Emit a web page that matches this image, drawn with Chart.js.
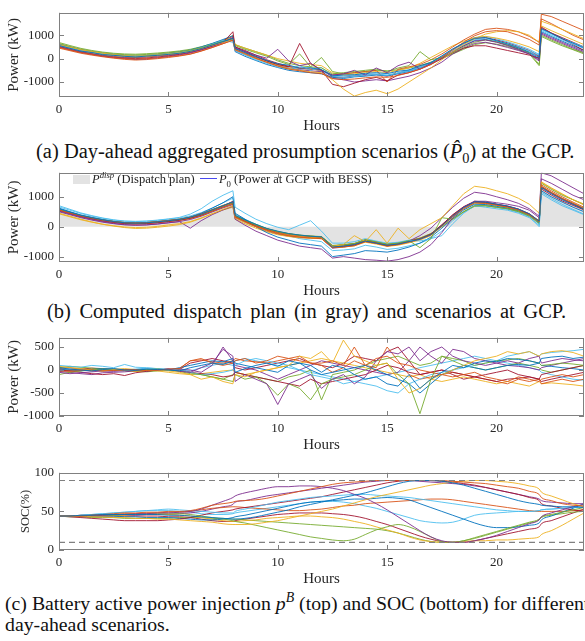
<!DOCTYPE html>
<html>
<head>
<meta charset="utf-8">
<script src="https://cdn.jsdelivr.net/npm/chart.js@4.4.1/dist/chart.umd.min.js"></script>
<style>
  body { margin: 0; width: 585px; height: 641px; overflow: hidden; background: #fff; position: relative; font-family: 'Liberation Serif', 'Times New Roman', serif; color: #111; }
  canvas { position: absolute; left: 0; }
  .cap { position: absolute; white-space: nowrap; font-size: 20.5px; line-height: 22px; }
  .capc { font-size: 19.8px; }
  .legend { position: absolute; left: 73px; top: 172px; font-size: 12.5px; white-space: nowrap; color: #222; }
  .legend .box { display: inline-block; width: 17px; height: 9px; background: #e3e3e3; vertical-align: -1px; margin-right: 2px; }
  .legend .ln { display: inline-block; width: 17px; height: 1px; background: #4a4af0; vertical-align: 4px; margin: 0 2px; }
  sup, sub { font-size: 70%; line-height: 0; }
</style>
</head>
<body>
<canvas id="chartA" width="585" height="135" style="top:0px"></canvas>
<div class="cap" style="left:36px;top:140px">(a) Day-ahead aggregated prosumption scenarios (<i>P̂</i><sub>0</sub>) at the GCP.</div>
<canvas id="chartB" width="585" height="140" style="top:160px"></canvas>
<div class="legend"><span class="box"></span><i>P</i><sup><i>disp</i></sup> (Dispatch plan) <span class="ln"></span><i>P</i><sub>0</sub> (Power at GCP with BESS)</div>
<div class="cap" style="left:47px;top:300px;word-spacing:3.4px">(b) Computed dispatch plan (in gray) and scenarios at GCP.</div>
<canvas id="chartC" width="585" height="129" style="top:325px"></canvas>
<canvas id="chartD" width="585" height="128" style="top:460px"></canvas>
<div class="cap capc" style="left:5px;top:592px">(c) Battery active power injection <i>p</i><sup><i>B</i></sup> (top) and SOC (bottom) for different</div>
<div class="cap capc" style="left:5px;top:613px">day-ahead scenarios.</div>
<script>
// time axis (h), half-hourly with the two step changes at 8 h and 22 h
const hours = [0,0.5,1,1.5,2,2.5,3,3.5,4,4.5,5,5.5,6,6.5,7,7.5,7.95,8.05,8.5,9,9.5,10,10.5,11,11.5,12,12.5,13,13.5,14,14.5,15,15.5,16,16.5,17,17.5,18,18.5,19,19.5,20,20.5,21,21.5,21.95,22.05,22.5,23,23.5,24];
const hourTicks = [0, 5, 10, 15, 20];

// (a) day-ahead aggregated prosumption scenarios (kW)
const prosumption = [
  [560,440,320,260,170,140,100,70,110,140,180,230,310,430,580,730,860,430,260,80,-80,-220,-280,-400,-390,-470,-740,-700,-690,-630,-600,-640,-540,-480,-300,-170,120,420,660,870,900,770,630,470,280,60,1280,1080,860,660,460],
  [480,370,260,180,100,40,0,-20,0,30,80,130,200,330,480,640,780,380,220,20,-160,-320,-450,-520,-600,-640,-850,-900,-870,-820,-780,-800,-720,-600,-450,-250,50,380,700,980,1150,1200,1150,1000,820,580,1900,1800,1600,1400,1200],
  [600,490,380,300,230,170,130,110,130,160,200,250,320,440,570,700,820,380,200,0,-150,-300,-420,-500,-560,-600,-900,-1300,-1600,-1450,-1350,-1500,-1300,-1000,-700,-400,-50,300,600,850,1050,1150,1200,1150,1000,700,1600,1450,1250,1050,850],
  [520,400,290,200,120,60,20,-30,-10,40,100,160,240,370,520,700,900,450,320,150,20,400,-100,-300,-200,-500,-700,-650,-500,-700,-400,-600,-300,-150,-450,-200,0,300,550,750,800,700,560,400,200,-100,1100,900,700,500,300],
  [650,520,400,320,250,200,170,160,180,210,250,300,360,470,600,740,830,560,400,250,100,-100,-250,200,-350,-400,-650,-600,-550,-500,-450,-550,-400,-300,300,-50,50,250,500,700,800,720,600,450,250,-250,1000,800,600,400,250],
  [580,470,360,280,210,160,120,110,130,170,210,270,340,470,620,780,700,350,150,-50,-200,-350,-450,-300,-500,-380,-750,-800,-760,-700,-680,-720,-620,-520,-380,-200,50,350,620,820,860,760,650,500,330,150,1200,1000,800,620,430],
  [500,380,270,190,110,60,20,0,30,70,120,180,260,380,530,690,1150,500,300,100,-100,-250,-350,650,-200,-500,-1100,-1200,-1050,-900,-800,-950,-700,-600,-450,-250,0,250,450,550,550,450,350,250,150,20,1350,1100,850,600,350],
  [620,500,390,300,230,180,140,120,140,180,230,290,370,500,650,820,980,300,100,-80,-250,-380,-500,-560,-600,-650,-800,-850,-780,-750,-700,-730,-650,-550,-400,-220,20,300,550,780,820,720,580,420,250,0,1150,950,750,550,350],
  [450,340,230,150,80,20,-30,-60,-40,0,50,110,190,320,470,640,800,420,250,50,-100,-250,-350,-400,-450,-500,-700,-650,-600,-550,-500,-1000,-450,-350,-250,-50,200,500,800,1050,1250,1300,1250,1150,950,700,1700,1500,1250,1000,800],
  [540,420,310,240,170,120,80,70,90,130,170,220,300,420,560,720,1000,600,450,300,150,0,-100,-200,-250,-300,-600,-700,-650,-600,-550,-600,-500,-400,-200,50,300,550,750,900,950,880,780,650,500,300,1400,1200,1000,800,600],
  [600,480,360,270,190,130,80,60,80,120,160,210,290,410,550,700,800,350,180,0,-150,-300,-420,-480,-520,-560,-850,-900,-1000,-950,-900,-950,-850,-750,-600,-400,-150,200,450,650,700,600,480,350,200,-50,1050,850,650,450,250],
  [690,560,440,350,280,230,200,190,210,240,280,330,400,510,640,780,880,600,450,300,150,-50,-200,-300,-350,50,-550,-650,-600,-550,-500,-520,-480,-400,-300,-150,0,200,400,600,680,620,520,380,200,-300,950,750,550,380,200],
  [560,450,340,260,190,150,110,100,120,150,200,260,330,460,600,750,860,450,300,100,-100,-280,-400,-450,-400,-550,-700,-750,-700,-680,-650,-700,-600,-500,-350,-150,100,400,680,900,950,850,720,570,400,180,1250,1050,850,680,500],
  [530,410,300,220,150,100,60,50,80,120,170,230,310,440,600,780,950,500,350,150,-50,-200,-330,-420,-450,-480,-780,-800,-740,-700,-680,-750,-620,-500,-350,-180,80,380,650,860,900,800,680,520,350,100,1300,1100,900,700,500]
];

// (b) dispatch plan and power at GCP with BESS (kW)
const dispatchPlan = [550,450,350,270,200,150,110,100,110,140,180,220,280,380,520,660,780,350,200,50,-80,-180,-250,-300,-330,-350,-650,-620,-580,-450,-520,-600,-560,-480,-400,-250,50,380,650,820,800,740,680,580,420,180,1250,1050,850,700,550];
const gcpPower = [
  [600,490,380,300,230,170,130,120,130,160,200,240,320,420,560,700,830,380,230,80,-60,-150,-230,-280,-320,-340,-680,-650,-600,-480,-550,-620,-580,-500,-420,-270,30,360,640,830,820,750,690,590,430,190,1300,1100,900,740,580],
  [560,460,360,290,220,170,140,130,140,170,210,250,320,430,570,710,820,320,170,0,-120,-230,-300,-350,-380,-400,-700,-680,-640,-500,-560,-650,-600,-520,-420,-280,20,340,600,800,780,720,650,560,400,170,1400,1200,1000,820,650],
  [450,350,250,160,80,20,-30,-60,-50,-20,20,70,150,280,430,580,700,300,150,0,-130,-220,-290,-330,-360,-380,-660,-600,-300,-500,-100,-550,-50,-400,-100,100,300,700,1100,1350,1300,1200,1100,950,750,450,1500,1300,1100,900,750],
  [520,420,320,240,170,110,70,50,60,90,130,170,-50,200,400,560,680,250,50,-150,-300,-450,-550,-650,-700,-750,-1050,-1000,-1050,-1100,-1120,-1150,-1100,-1000,-850,-600,-200,300,650,850,850,800,750,680,550,300,1800,1700,1500,1300,1100],
  [570,470,370,290,220,170,130,120,130,160,200,240,310,410,550,690,800,360,210,60,-70,-170,-240,-290,-320,-340,-640,-610,-570,-440,-510,-590,-550,-470,-700,-400,300,250,500,700,700,650,600,520,380,150,1450,1250,1050,900,750],
  [700,580,460,370,290,230,190,180,190,220,260,310,420,600,850,1050,1200,650,450,250,100,-20,-100,50,200,-150,-550,-550,-500,-400,-480,-550,-520,-450,-480,-400,-300,100,450,700,650,600,550,450,300,50,1100,900,700,550,400],
  [560,460,350,270,200,150,110,100,110,140,180,220,290,400,550,690,850,330,180,20,-110,-210,-290,-330,-360,-370,-680,-660,-610,-490,-540,-640,-590,-500,-410,-250,60,400,670,850,820,750,680,580,420,170,1320,1120,920,750,580],
  [620,500,390,310,240,180,140,130,140,170,210,250,320,450,620,800,1000,450,250,0,-200,-350,-450,-550,-600,-650,-1000,-950,-900,-800,-820,-850,-780,-680,-550,-350,-50,280,560,750,740,680,620,530,380,130,1200,1000,820,650,500],
  [540,440,340,260,190,140,100,90,100,130,170,210,270,370,510,650,760,340,190,40,-90,-190,-260,-310,-340,-360,-670,-640,-590,-460,-530,-610,-570,-490,-410,-260,40,370,640,810,790,730,670,570,410,170,1350,1150,950,780,600],
  [430,330,230,150,80,30,-10,-30,-20,10,60,100,170,290,430,560,650,250,100,-50,-170,-270,-330,-370,-390,-400,-700,-680,-640,-520,-580,-660,-620,-540,-450,-300,0,330,600,780,770,710,650,550,400,200,1480,1280,1080,900,720],
  [500,400,300,220,150,100,60,50,60,90,130,170,240,350,490,630,740,300,150,0,-150,-250,-320,-360,-380,-400,-720,-680,-620,-500,-560,-620,-580,-480,-300,-50,300,650,950,1150,1100,1000,900,780,600,350,1600,1450,1250,1050,900],
  [580,480,380,300,230,180,140,130,140,170,210,250,320,430,570,710,820,380,230,80,-60,-160,-230,-280,-310,-330,-630,-600,-560,-430,-500,-580,-540,-460,-380,-230,0,250,500,680,700,650,600,500,350,100,1350,1150,950,780,620],
  [660,550,440,350,280,220,180,170,180,210,250,290,360,470,620,800,950,420,250,80,-80,-200,-300,-400,-450,-500,-800,-780,-740,-620,-680,-760,-720,-640,-550,-400,-150,200,480,700,700,650,580,480,330,0,1150,950,750,580,420],
  [550,450,350,270,200,150,110,100,110,140,180,220,280,380,520,660,790,360,210,60,-70,-170,-240,-290,-320,-340,-640,-610,-570,-440,-510,-590,-550,-470,-390,-240,60,390,660,830,810,750,690,590,430,190,1260,1060,860,710,560]
];

// (c, top) battery active power injection (kW)
const batteryPower = [
  [50,20,0,-20,10,30,0,-10,20,10,0,-20,50,100,150,120,200,-50,30,100,150,80,200,150,100,-50,100,50,-100,-200,-150,-300,-350,-100,-400,-200,-50,100,50,150,200,180,250,230,200,150,250,280,300,250,280],
  [-20,-30,-10,0,-20,-10,10,0,-10,0,20,30,200,250,150,100,150,200,250,150,200,300,250,200,150,150,200,100,500,100,250,300,150,100,0,-50,-100,-150,-100,-50,-150,-200,-250,-150,-200,-250,-200,-150,-100,-150,-100],
  [80,50,30,0,-20,10,0,-30,-10,0,-20,-50,-100,-200,-150,-250,-300,-100,-150,-50,0,50,100,300,250,400,150,650,300,200,100,150,-200,-500,-400,-200,-100,0,100,200,250,300,400,350,400,300,350,400,420,380,300],
  [-50,-80,-60,-40,-20,-30,-10,0,-20,0,20,-30,-50,50,150,450,300,-250,-100,-200,-300,-750,-300,-200,-100,-400,-200,-100,-300,-150,200,400,350,500,200,400,500,300,200,150,100,150,200,150,250,300,150,200,250,220,200],
  [-100,-50,-20,0,20,10,-10,0,10,20,0,-30,-80,-100,-150,-200,-250,-100,-200,-150,-300,-550,-300,-400,-650,-300,-200,-150,-100,0,100,150,-100,-300,-950,-200,300,250,200,100,150,200,220,250,200,150,100,120,150,130,100],
  [100,80,60,100,80,50,120,60,50,30,20,0,-50,-100,-80,-50,0,100,200,250,200,150,100,0,-100,-150,-200,-300,-250,-300,-350,-450,-500,-300,-200,-100,-50,0,50,100,150,200,300,350,400,300,350,380,400,420,450],
  [0,-20,-50,-80,-100,-80,-120,-60,-30,0,20,0,-50,-80,-100,-150,-120,-50,-100,-150,-200,-250,-300,-350,-200,-300,-250,-200,-150,-100,0,100,50,-50,-100,-50,0,-50,-100,-150,-200,-250,-200,-180,-150,-200,-100,-50,0,50,100],
  [20,0,-20,10,30,20,0,10,20,10,0,50,100,150,200,180,250,150,100,50,0,-50,100,150,0,-100,-50,0,50,100,0,-100,-200,-300,-500,-300,-100,0,100,50,0,50,100,120,100,150,100,80,50,30,0],
  [30,50,20,0,-20,0,10,-10,0,20,10,30,200,220,180,150,200,250,200,180,150,200,250,300,150,100,-50,50,200,100,50,500,200,-100,-200,-150,-100,-50,-100,-150,-200,-250,-300,-200,-250,-200,-300,-250,-200,-250,-200],
  [0,-10,10,-20,0,20,30,10,0,-20,-50,-80,-100,-80,-50,-20,0,-50,-100,-50,0,50,100,150,200,250,200,150,100,50,0,-50,-100,-150,-100,-200,-250,-200,-150,-200,-250,-300,-250,-300,-350,-250,-300,-280,-300,-320,-350],
  [-30,-50,-80,-100,-60,-50,-40,-20,-10,0,10,20,0,-50,100,500,200,100,50,0,-100,-200,-100,0,100,200,150,100,50,0,-50,-100,-50,200,500,300,150,450,400,250,200,150,100,80,50,0,50,100,150,200,250],
  [50,80,60,40,20,0,-20,-30,-40,-20,0,-20,-50,-100,-150,-200,-100,-50,-100,-150,-200,-250,-150,-100,0,-650,-100,-50,0,100,200,250,300,200,100,150,300,200,100,50,0,50,100,150,100,50,0,-50,0,50,100],
  [60,40,20,0,-20,-10,0,20,40,30,10,0,-20,50,100,150,100,200,250,200,150,100,50,0,-50,-100,-150,-200,-250,-200,-150,-100,-50,0,50,100,150,200,250,300,250,200,150,100,50,0,-50,-100,-150,-200,-220],
  [-20,0,20,40,30,10,-10,-30,-20,0,20,10,150,200,250,200,150,50,0,50,100,150,200,250,150,100,50,150,300,250,200,400,500,200,-100,-50,0,-100,-200,-150,-100,-50,0,-100,-150,-200,-250,-200,-150,-100,-50]
];

// (c, bottom) state of charge (%)
const socScenarios = [
  [44,44,45,45,46,46,46,46,46,46,45,45,44,43,42,41,40,40,41,43,46,49,52,56,59,62,65,68,71,74,78,82,86,89,90,90,89,87,84,80,76,72,68,64,61,59,58,57,56,56,55],
  [44,44,44,45,46,47,48,48,49,49,50,50,51,54,58,60,62,63,64,65,67,70,73,76,79,82,85,87,88,89,90,90,90,90,90,90,90,89,88,87,86,84,82,80,76,72,68,64,60,58,57],
  [44,44,44,43,43,42,42,41,41,40,40,39,38,37,36,34,33,33,33,34,36,38,41,44,47,50,53,57,61,65,69,72,75,78,81,84,86,88,89,90,90,89,88,86,83,79,75,70,65,60,56],
  [44,44,44,45,45,46,46,47,47,48,48,49,50,53,58,63,68,70,74,77,80,82,82,83,83,82,80,77,72,67,60,52,43,34,25,17,12,10,10,12,15,19,24,29,34,39,43,48,52,56,59],
  [44,44,44,45,45,45,46,46,47,47,47,47,46,44,42,40,38,37,35,32,29,26,23,20,17,15,13,12,14,20,26,30,33,30,24,17,11,10,12,16,20,24,28,32,36,40,43,46,49,52,55],
  [44,44,45,46,47,48,49,50,51,52,53,52,51,50,49,48,48,50,53,56,59,62,64,66,68,69,70,71,72,72,71,70,69,68,66,64,62,60,58,56,54,52,51,50,50,51,52,53,54,55,56],
  [44,43,42,41,40,39,38,38,38,38,39,40,42,45,48,50,52,53,55,57,59,61,63,65,67,69,72,75,78,81,84,87,89,90,90,90,89,88,86,84,81,78,75,72,68,64,60,57,54,52,50],
  [44,44,44,44,44,44,43,43,42,42,42,41,40,39,39,40,42,43,45,48,51,54,57,60,62,63,64,65,66,66,67,68,67,65,60,55,50,45,40,35,31,29,29,30,32,35,39,44,49,54,60],
  [44,44,45,45,46,46,47,47,48,48,49,49,50,52,54,55,56,56,55,54,53,52,51,51,52,53,55,57,58,60,61,62,63,64,65,66,66,65,63,61,59,57,55,53,51,50,50,50,50,51,52],
  [44,44,44,44,45,45,45,46,46,46,46,45,44,42,40,38,37,37,38,39,41,42,43,44,44,43,42,40,37,34,30,26,22,17,13,11,10,10,11,12,12,13,13,14,15,17,20,25,32,40,48],
  [44,44,44,44,44,45,45,45,46,46,46,47,48,50,53,56,59,62,64,67,70,72,74,76,78,80,82,84,86,88,89,90,90,90,89,88,87,86,85,83,81,78,75,72,69,66,64,62,61,60,60],
  [44,43,43,42,42,42,41,41,41,41,41,42,42,42,41,41,40,40,39,38,37,36,35,34,33,32,31,30,29,28,27,25,22,18,14,11,10,10,12,15,19,23,27,31,35,39,42,45,47,49,50],
  [44,44,45,46,47,48,49,50,51,51,51,50,49,47,46,46,47,48,50,52,54,56,58,60,62,63,63,62,60,57,54,50,46,42,38,36,35,36,40,45,47,48,49,50,50,51,52,53,54,55,56],
  [44,44,44,44,44,44,44,44,44,44,43,43,42,40,38,37,37,38,40,42,44,46,47,48,48,48,47,46,44,41,37,33,28,23,18,14,11,10,10,12,15,18,21,24,27,30,34,38,43,48,53]
];
const socLimits = [10, 90];

const colorOrder = ['#0072BD', '#D95319', '#EDB120', '#7E2F8E', '#77AC30', '#4DBEEE', '#A2142F'];
const serif = "'Liberation Serif', 'Times New Roman', serif";
const textColor = '#262626';

function toPoints(vals) {
  return vals.map((v, i) => ({ x: hours[i], y: v }));
}

function scenarioSets(list, extra) {
  return list.map((vals, i) => Object.assign({
    data: toPoints(vals),
    borderColor: colorOrder[i % colorOrder.length],
    borderWidth: 0.9,
    pointRadius: 0,
    tension: 0,
    fill: false
  }, extra || {}));
}

// matlab style box with inward ticks
const boxPlugin = {
  id: 'box',
  afterDatasetsDraw(chart) {
    const { ctx, chartArea: a, scales } = chart;
    ctx.save();
    ctx.strokeStyle = '#808080';
    ctx.lineWidth = 1;
    ctx.strokeRect(Math.round(a.left) + 0.5, Math.round(a.top) + 0.5, Math.round(a.right - a.left) - 1, Math.round(a.bottom - a.top) - 1);
    ctx.beginPath();
    scales.x.ticks.forEach(t => {
      const px = Math.round(scales.x.getPixelForValue(t.value)) + 0.5;
      ctx.moveTo(px, a.bottom); ctx.lineTo(px, a.bottom - 5);
      ctx.moveTo(px, a.top); ctx.lineTo(px, a.top + 5);
    });
    scales.y.ticks.forEach(t => {
      const py = Math.round(scales.y.getPixelForValue(t.value)) + 0.5;
      ctx.moveTo(a.left, py); ctx.lineTo(a.left + 5, py);
      ctx.moveTo(a.right, py); ctx.lineTo(a.right - 5, py);
    });
    ctx.stroke();
    ctx.restore();
  }
};

function makeChart(id, padTop, datasets, yMin, yMax, yTicks, yTitle, yTitleSize, yTitlePad) {
  return new Chart(document.getElementById(id), {
    type: 'line',
    data: { datasets: datasets },
    options: {
      responsive: false,
      animation: false,
      layout: { padding: { top: padTop, right: 1, left: 0, bottom: 0 } },
      plugins: { legend: { display: false }, tooltip: { enabled: false } },
      scales: {
        x: {
          type: 'linear', min: 0, max: 24,
          grid: { display: false, drawTicks: false },
          border: { display: false },
          ticks: { font: { family: serif, size: 13 }, color: textColor, padding: 5, maxRotation: 0, callback: v => String(v) },
          afterBuildTicks: s => { s.ticks = hourTicks.map(v => ({ value: v })); },
          afterFit: s => { s.height = 38; },
          title: { display: true, text: 'Hours', font: { family: serif, size: 15 }, color: textColor, padding: 0 }
        },
        y: {
          min: yMin, max: yMax,
          grid: { display: false, drawTicks: false },
          border: { display: false },
          ticks: { font: { family: serif, size: 13 }, color: textColor, padding: 5, callback: v => String(v) },
          afterBuildTicks: s => { s.ticks = yTicks.map(v => ({ value: v })); },
          afterFit: s => { s.width = 59; },
          title: { display: true, text: yTitle, font: { family: serif, size: yTitleSize }, color: textColor, padding: { top: yTitlePad, bottom: 0 } }
        }
      }
    },
    plugins: [boxPlugin]
  });
}

makeChart('chartA', 4, scenarioSets(prosumption), -1640, 1960, [-1000, 0, 1000], 'Power (kW)', 15, 5);

const dispatchSet = {
  data: toPoints(dispatchPlan),
  borderWidth: 0,
  borderColor: 'rgba(0,0,0,0)',
  backgroundColor: '#e3e3e3',
  pointRadius: 0,
  fill: 'origin',
  order: 1
};
makeChart('chartB', 9, scenarioSets(gcpPower).concat([dispatchSet]), -1180, 1800, [-1000, 0, 1000], 'Power (kW)', 15, 5);

makeChart('chartC', 7, scenarioSets(batteryPower), -1000, 700, [-1000, -500, 0, 500], 'Power (kW)', 15, 5);

const limitSets = socLimits.map(v => ({
  data: [{ x: hours[0], y: v }, { x: hours[hours.length - 1], y: v }],
  borderColor: '#808080',
  borderWidth: 1.2,
  borderDash: [6, 4],
  pointRadius: 0,
  fill: false
}));
makeChart('chartD', 7, limitSets.concat(scenarioSets(socScenarios, { cubicInterpolationMode: 'monotone' })), 0, 100, [0, 50, 100], 'SOC(%)', 12.5, 18);
</script>
</body>
</html>
